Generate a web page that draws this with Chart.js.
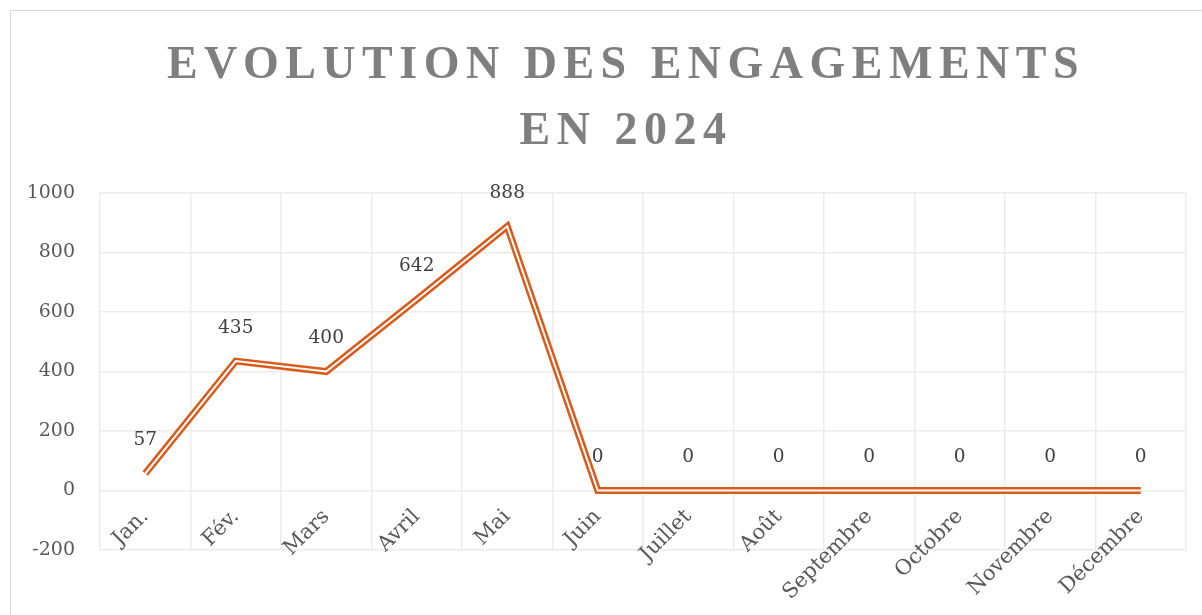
<!DOCTYPE html>
<html>
<head>
<meta charset="utf-8">
<script src="https://cdn.jsdelivr.net/npm/chart.js@4.4.1/dist/chart.umd.min.js"></script>
<style>
  html, body { margin: 0; padding: 0; background: #fff; overflow: hidden; }
  #frame { position: absolute; left: 10px; top: 10px; width: 1200px; height: 620px; border: 1px solid #d9d9d9; }
  #wrap { position: absolute; left: 0; top: 0; width: 1202px; height: 615px; }
</style>
</head>
<body>
<div id="frame"></div>
<div id="wrap"><canvas id="chart"></canvas></div>
<script>
const titleLines = ['EVOLUTION DES ENGAGEMENTS', 'EN 2024'];
const months = ['Jan.', 'Fév.', 'Mars', 'Avril', 'Mai', 'Juin', 'Juillet', 'Août',
  'Septembre', 'Octobre', 'Novembre', 'Décembre'];
const engagements = [57, 435, 400, 642, 888, 0, 0, 0, 0, 0, 0, 0];
const yMin = -200, yMax = 1000, yStep = 200;

const orange = '#d95b1c';
const serif = '"DejaVu Serif", serif';

// titre avec espacement des lettres (comme dans Excel)
const spacedTitle = {
  id: 'spacedTitle',
  afterDraw(chart) {
    const ctx = chart.ctx;
    ctx.save();
    ctx.font = 'bold 46px "Liberation Serif", serif';
    ctx.fillStyle = '#7f7f7f';
    ctx.letterSpacing = '6.5px';
    ctx.textAlign = 'center';
    ctx.textBaseline = 'middle';
    titleLines.forEach((t, i) => ctx.fillText(t, 626, 66 + i * 66));
    ctx.restore();
  }
};

// étiquettes de données au-dessus des points
const valueLabels = {
  id: 'valueLabels',
  afterDatasetsDraw(chart) {
    const ctx = chart.ctx;
    const meta = chart.getDatasetMeta(0);
    ctx.save();
    ctx.font = '18.5px ' + serif;
    ctx.fillStyle = '#404040';
    ctx.textAlign = 'center';
    ctx.textBaseline = 'middle';
    meta.data.forEach((pt, i) => {
      ctx.fillText(String(engagements[i]), pt.x, pt.y - 33);
    });
    ctx.restore();
  }
};

new Chart(document.getElementById('chart'), {
  type: 'line',
  data: {
    labels: months,
    datasets: [
      {
        data: engagements,
        borderColor: orange,
        borderWidth: 7,
        pointRadius: 0,
        tension: 0,
        borderJoinStyle: 'miter',
        borderCapStyle: 'butt',
        order: 1
      },
      {
        // trait blanc au centre -> effet double ligne
        data: engagements,
        borderColor: '#ffffff',
        borderWidth: 2,
        pointRadius: 0,
        tension: 0,
        borderJoinStyle: 'miter',
        borderCapStyle: 'butt',
        order: 0
      }
    ]
  },
  options: {
    responsive: true,
    maintainAspectRatio: false,
    animation: false,
    events: [],
    layout: {
      padding: { left: 0, right: 16, top: 193, bottom: 65 }
    },
    plugins: {
      legend: { display: false },
      title: { display: false },
      tooltip: { enabled: false }
    },
    scales: {
      x: {
        type: 'category',
        position: { y: 0 },
        offset: true,
        grid: { offset: true, color: '#ececec', lineWidth: 1.5, drawTicks: false },
        border: { display: false },
        ticks: {
          minRotation: 45,
          maxRotation: 45,
          autoSkip: false,
          padding: 14,
          color: '#595959',
          font: { family: serif, size: 21 }
        }
      },
      y: {
        min: yMin,
        max: yMax,
        grid: { color: '#ececec', lineWidth: 1.5, drawTicks: false },
        border: { display: false },
        ticks: {
          stepSize: yStep,
          padding: 25,
          color: '#595959',
          font: { family: serif, size: 19 },
          callback: (v) => String(v)
        },
        afterFit(scale) { scale.width = 100; }
      }
    }
  },
  plugins: [spacedTitle, valueLabels]
});
</script>
</body>
</html>
